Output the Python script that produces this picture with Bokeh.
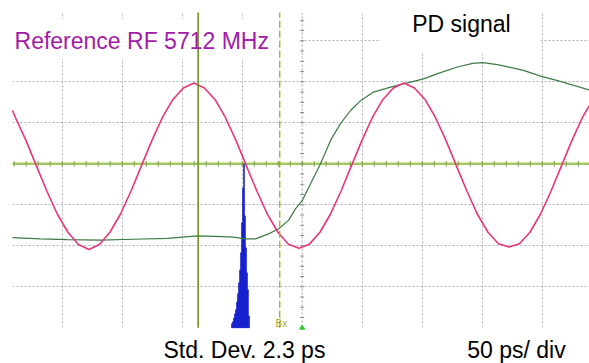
import numpy as np
from bokeh.plotting import figure
from bokeh.models import Range1d, Grid, FixedTicker, Span, Label, BoxAnnotation
from bokeh.embed import file_html
from bokeh.resources import INLINE

# ---- data (x in ps, 50 ps/div ; y in vertical divisions) ----
rf_t = [-241.4, -239.0, -230.2, -221.5, -212.7, -204.0, -195.2, -186.5, -177.7, -169.0,
        -160.2, -151.5, -142.7, -134.0, -125.2, -116.5, -107.7, -99.0, -90.2, -81.5,
        -72.7, -64.0, -55.2, -46.5, -37.7, -29.0, -20.2, -11.5, -2.7, 6.0,
        14.8, 23.5, 32.3, 41.0, 49.8, 58.5, 67.3, 76.0, 84.8, 93.5,
        102.3, 111.0, 119.8, 128.5, 137.3, 146.0, 154.8, 163.5, 172.3, 181.0,
        189.8, 198.5, 207.3, 216.0, 224.8, 233.5, 242.3]
rf_v = [1.30, 1.13, 0.57, -0.05, -0.67, -1.23, -1.67, -1.97, -2.09, -1.97,
        -1.67, -1.23, -0.67, -0.05, 0.57, 1.13, 1.57, 1.85, 1.97, 1.85,
        1.57, 1.13, 0.57, -0.05, -0.67, -1.23, -1.67, -1.96, -2.06, -1.96,
        -1.67, -1.23, -0.67, -0.05, 0.57, 1.13, 1.57, 1.85, 1.97, 1.85,
        1.57, 1.13, 0.57, -0.05, -0.67, -1.23, -1.67, -1.95, -2.03, -1.95,
        -1.67, -1.23, -0.67, -0.05, 0.57, 1.13, 1.57]

pd_t = [-241.4, -218.1, -195.6, -168.1, -140.6, -112.3, -87.3, -72.3, -57.3, -47.3,
        -38.9, -28.1, -19.8, -11.4, -5.6, 0.0, 8.3, 15.3, 23.6, 31.9,
        40.3, 48.6, 59.4, 73.6, 84.4, 101.1, 112.8, 129.4, 141.9, 150.3,
        162.8, 184.4, 198.6, 212.8, 239.4]
pd_v = [-1.80, -1.83, -1.85, -1.86, -1.84, -1.82, -1.76, -1.77, -1.79, -1.83,
        -1.83, -1.71, -1.59, -1.38, -1.10, -0.90, -0.41, 0.0, 0.57, 0.98,
        1.30, 1.54, 1.75, 1.87, 1.95, 2.07, 2.20, 2.36, 2.45, 2.47,
        2.42, 2.28, 2.14, 2.03, 1.80]

hist_t = [-58.5, -57.7, -56.8, -56.0, -55.2, -54.3, -53.5, -52.7, -51.8, -51.0,
          -50.2, -49.3, -48.5, -47.7, -46.8, -46.0, -45.2, -44.3]
hist_h = [0.10, 0.15, 0.24, 0.34, 0.44, 0.63, 0.83, 1.10, 1.41, 1.83,
          2.56, 3.41, 4.00, 2.73, 1.95, 1.34, 0.93, 0.29]
hist_bin = 0.85

# screen graticule limits (ps / divisions)
scr_left, scr_right = -241.4, 239.4
scr_bottom, scr_top = -4.0, 3.69

cursor_a = -86.7
cursor_b = -18.7

grid_x = [-200, -150, -100, -50, 50, 100, 150, 200]
grid_y = [-3, -2, -1, 1, 2, 3]

title_rf = "Reference RF 5712 MHz"
title_pd = "PD signal"
label_std = "Std. Dev. 2.3 ps"
label_div = "50 ps/ div"
label_cursor = "Bx"

# ---- figure: the frame covers the whole canvas ----
p = figure(width=589, height=363,
           x_range=Range1d(-251.4, 239.4), y_range=Range1d(-4.871, 3.983),
           x_axis_type=None, y_axis_type=None,
           toolbar_location=None, output_backend="svg",
           min_border_left=0, min_border_right=0, min_border_top=0, min_border_bottom=0,
           outline_line_color=None, background_fill_color="white", border_fill_color="white")

grid_col = "#b2b2b2"
p.add_layout(Grid(dimension=0, ticker=FixedTicker(ticks=grid_x),
                  grid_line_color=grid_col, grid_line_dash="2 2", grid_line_width=1))
p.add_layout(Grid(dimension=1, ticker=FixedTicker(ticks=grid_y),
                  grid_line_color=grid_col, grid_line_dash="2 2", grid_line_width=1))

# centre graticule lines
p.add_layout(Span(location=0, dimension="height", line_color="#a0a0a0",
                  line_dash="2 2", line_width=1, level="underlay"))
p.add_layout(Span(location=0, dimension="width", line_color="#a3c965",
                  line_width=2.5, level="underlay"))

# white areas outside the screen and behind the captions
white = dict(fill_color="white", fill_alpha=1.0, line_color=None, level="underlay")
p.add_layout(BoxAnnotation(left=-260, right=scr_left, bottom=-5, top=4.1, **white))
p.add_layout(BoxAnnotation(left=-260, right=250, bottom=scr_top, top=4.1, **white))
p.add_layout(BoxAnnotation(left=-260, right=250, bottom=-5, top=scr_bottom, **white))
p.add_layout(BoxAnnotation(left=-245, right=-3.1, bottom=2.57, top=3.54, **white))
p.add_layout(BoxAnnotation(left=65.2, right=198.6, bottom=2.71, top=3.9, **white))

# centre tick marks
yt = np.arange(scr_bottom, scr_top, 0.25)
p.segment(x0=-1.7, x1=1.7, y0=yt, y1=yt, line_color="#8a8a8a", line_width=1)
xt = np.arange(-240, 241, 10)
p.segment(x0=xt, x1=xt, y0=-0.07, y1=0.07, line_color="#7e9a48", line_width=1)

# traces
p.vbar(x=hist_t, width=hist_bin, bottom=scr_bottom, top=[scr_bottom + h for h in hist_h],
       fill_color="#0a14cc", line_color="#0a14cc", line_width=0.5)
p.line(pd_t, pd_v, line_color="#3d7a45", line_width=1.2)
p.line(rf_t, rf_v, line_color="#e8357c", line_width=1.6)

# cursors
p.segment(x0=[cursor_a], x1=[cursor_a], y0=scr_bottom, y1=scr_top,
          line_color="#6f951f", line_width=1.6)
p.segment(x0=[cursor_b], x1=[cursor_b], y0=scr_bottom, y1=scr_top,
          line_color="#a8a820", line_width=1.3, line_dash="7 3")
p.scatter([0], [scr_bottom], marker="triangle", size=5, fill_color="#33cc33", line_color="#33cc33")

# texts
p.add_layout(Label(x=-239.7, y=2.995, text=title_rf, text_font="Liberation Sans",
                   text_font_size="23px", text_color="#a31aa8", text_baseline="alphabetic"))
p.add_layout(Label(x=91.7, y=3.405, text=title_pd, text_font="Liberation Sans",
                   text_font_size="23px", text_color="black", text_baseline="alphabetic"))
p.add_layout(Label(x=-22.2, y=-3.905, text=label_cursor, text_font="Liberation Sans",
                   text_font_size="10px", text_color="#9aa830", text_baseline="alphabetic"))
p.add_layout(Label(x=-115.6, y=-4.54, text=label_std, text_font="Liberation Sans",
                   text_font_size="23px", text_color="black", text_baseline="alphabetic"))
p.add_layout(Label(x=137.5, y=-4.54, text=label_div, text_font="Liberation Sans",
                   text_font_size="23px", text_color="black", text_baseline="alphabetic"))

open("out.html", "w").write(file_html(p, INLINE))
